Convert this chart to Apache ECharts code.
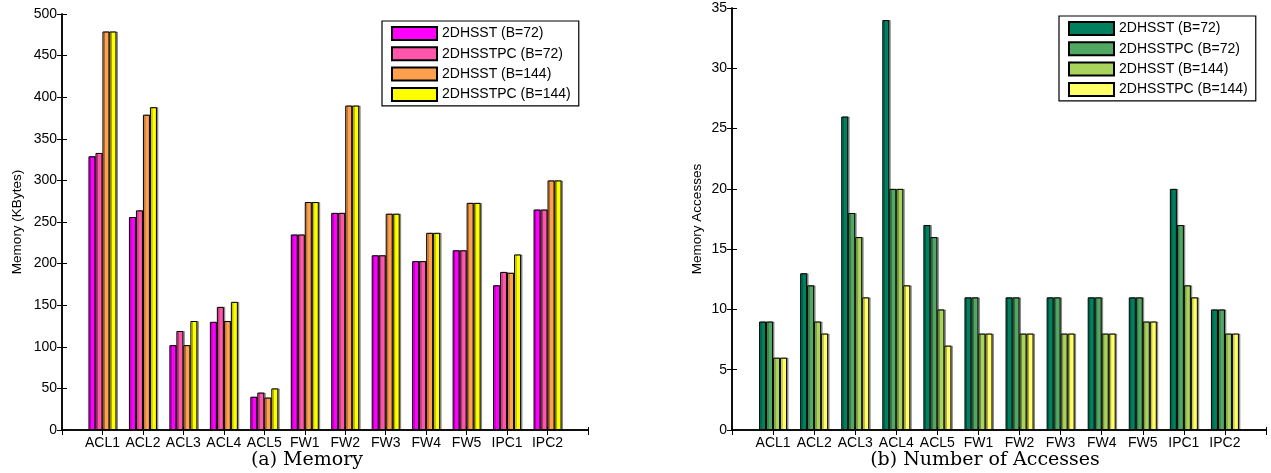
<!doctype html>
<html lang="en">
<head>
<meta charset="UTF-8">
<title>Memory and accesses</title>
<script src="https://cdn.jsdelivr.net/npm/echarts@6/dist/echarts.min.js"></script>
<style>
  html, body { margin: 0; padding: 0; background: #fff; }
  #main { width: 1271px; height: 473px; }
</style>
</head>
<body>
<div id="main"></div>
<script>
    // data
    var categories = ['ACL1','ACL2','ACL3','ACL4','ACL5','FW1','FW2','FW3','FW4','FW5','IPC1','IPC2'];
    var seriesNames = ['2DHSST (B=72)','2DHSSTPC (B=72)','2DHSST (B=144)','2DHSSTPC (B=144)'];

    // (a) memory, KBytes
    var memHsst72    = [329, 256, 102, 130, 40, 235, 261, 210, 203, 216, 174, 265];
    var memHsstpc72  = [333, 264, 119, 148, 45, 235, 261, 210, 203, 216, 190, 265];
    var memHsst144   = [479, 379, 102, 131, 39, 274, 390, 260, 237, 273, 189, 300];
    var memHsstpc144 = [479, 388, 131, 154, 50, 274, 390, 260, 237, 273, 211, 300];

    // (b) number of memory accesses
    var accHsst72    = [9, 13, 26, 34, 17, 11, 11, 11, 11, 11, 20, 10];
    var accHsstpc72  = [9, 12, 18, 20, 16, 11, 11, 11, 11, 11, 17, 10];
    var accHsst144   = [6,  9, 16, 20, 10,  8,  8,  8,  8,  9, 12,  8];
    var accHsstpc144 = [6,  8, 11, 12,  7,  8,  8,  8,  8,  9, 11,  8];

    var memColors = ['#ff00ff', '#ff55aa', '#ffa04f', '#ffff00'];
    var accColors = ['#00805f', '#50a862', '#a8d45c', '#ffff66'];

    var sansFont = "'Liberation Sans', Arial, sans-serif";
    var serifFont = "'DejaVu Serif', 'Liberation Serif', serif";

    // matlab style: x runs 0..13 with groups at 1..12
    function bottomAxis(grid) {
        return {
            type: 'value', gridIndex: grid, min: 0, max: 13, interval: 1,
            axisLine: { lineStyle: { color: '#000', width: 1.5 } },
            axisTick: { show: true, inside: true, length: 3, lineStyle: { color: '#000' } },
            axisLabel: { color: '#000', fontFamily: sansFont, fontSize: 14, margin: 6,
                         formatter: function (v) { return categories[v - 1] || ''; } },
            splitLine: { show: false }
        };
    }
    function topAxis(grid) {
        return {
            type: 'value', gridIndex: grid, min: 0, max: 13, interval: 1, position: 'top',
            axisLine: { lineStyle: { color: '#000', width: 1.5 } },
            axisTick: { show: true, inside: true, length: 5, lineStyle: { color: '#000' } },
            axisLabel: { show: false },
            splitLine: { show: false }
        };
    }
    function leftAxis(grid, max, step, name, gap) {
        return {
            type: 'value', gridIndex: grid, min: 0, max: max, interval: step,
            name: name, nameLocation: 'middle', nameGap: gap,
            nameTextStyle: { color: '#000', fontFamily: sansFont, fontSize: 13.5 },
            axisLine: { show: true, lineStyle: { color: '#000', width: 1.5 } },
            axisTick: { show: true, inside: true, length: 5, lineStyle: { color: '#000' } },
            axisLabel: { color: '#000', fontFamily: sansFont, fontSize: 14, margin: 5 },
            splitLine: { show: false }
        };
    }
    function rightAxis(grid, max, step) {
        return {
            type: 'value', gridIndex: grid, min: 0, max: max, interval: step, position: 'right',
            axisLine: { show: true, lineStyle: { color: '#000', width: 1.5 } },
            axisTick: { show: true, inside: true, length: 5, lineStyle: { color: '#000' } },
            axisLabel: { show: false },
            splitLine: { show: false }
        };
    }
    function bars(name, values, color, grid) {
        return {
            name: name, type: 'bar',
            data: values.map(function (v, i) { return [i + 1, v]; }),
            xAxisIndex: grid * 2, yAxisIndex: grid * 2,
            barWidth: 7, barGap: '0%',
            itemStyle: { color: color, borderColor: '#000', borderWidth: 1,
                         shadowColor: 'rgba(0,0,0,0.35)', shadowOffsetX: 1.5, shadowBlur: 0 }
        };
    }
    function legendBox(colors, left, top) {
        return {
            orient: 'vertical', left: left, top: top,
            data: seriesNames.map(function (n, i) { return { name: n, itemStyle: { color: colors[i] } }; }),
            itemWidth: 45, itemHeight: 13, itemGap: 5.3,
            padding: [5, 8, 4, 9],
            borderColor: '#000', borderWidth: 1.2, backgroundColor: '#fff',
            textStyle: { color: '#000', fontFamily: sansFont, fontSize: 14 },
            selectedMode: false,
            icon: 'rect'
        };
    }

    var memData = [memHsst72, memHsstpc72, memHsst144, memHsstpc144];
    var accData = [accHsst72, accHsstpc72, accHsst144, accHsstpc144];

    var series = [];
    seriesNames.forEach(function (n, i) { series.push(bars(n, memData[i], memColors[i], 0)); });
    seriesNames.forEach(function (n, i) { series.push(bars(n, accData[i], accColors[i], 1)); });

    var myChart = echarts.init(document.getElementById('main'), null, { renderer: 'canvas' });
    var option = {
        animation: false,
        backgroundColor: '#fff',
        title: [
            { text: '(a) Memory', left: 302, top: 446, textAlign: 'center',
              textStyle: { fontFamily: serifFont, fontWeight: 'normal', fontSize: 19, color: '#000' } },
            { text: '(b) Number of Accesses', left: 980, top: 446, textAlign: 'center',
              textStyle: { fontFamily: serifFont, fontWeight: 'normal', fontSize: 19, color: '#000' } }
        ],
        legend: [legendBox(memColors, 382, 21), legendBox(accColors, 1059, 16)],
        grid: [
            { left: 62, right: 683, top: 14, bottom: 43 },
            { left: 732, right: 5, top: 8, bottom: 43 }
        ],
        xAxis: [bottomAxis(0), topAxis(0), bottomAxis(1), topAxis(1)],
        yAxis: [leftAxis(0, 500, 50, 'Memory (KBytes)', 38), rightAxis(0, 500, 50),
                leftAxis(1, 35, 5, 'Memory Accesses', 28), rightAxis(1, 35, 5)],
        series: series
    };
    myChart.setOption(option);
</script>
</body>
</html>
